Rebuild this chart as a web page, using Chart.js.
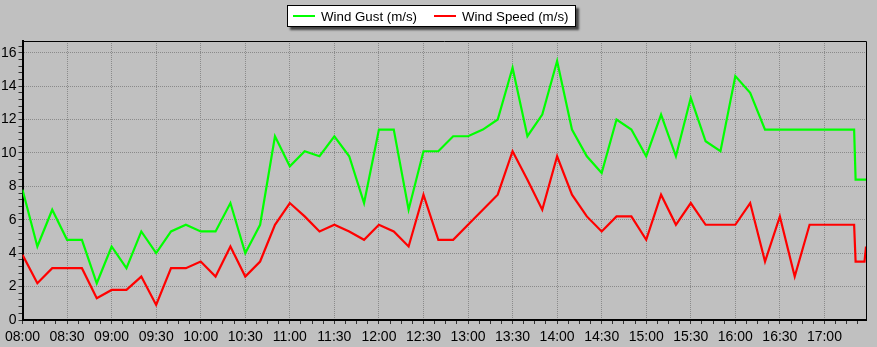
<!DOCTYPE html>
<html>
<head>
<meta charset="utf-8">
<script src="https://cdn.jsdelivr.net/npm/chart.js@4/dist/chart.umd.min.js"></script>
<style>
html,body{margin:0;padding:0;background:#c0c0c0;}
#wrap{position:relative;width:877px;height:347px;background:#c0c0c0;}
#chart{position:absolute;left:0;top:0;}
#legend{position:absolute;left:287px;top:5px;width:289px;height:22px;box-sizing:border-box;background:#fff;border:1px solid #000;box-shadow:3px 3px 2px rgba(0,0,0,0.65);display:flex;align-items:center;font:13.3px "Liberation Sans",Arial,sans-serif;color:#000;white-space:nowrap;}
#legend .item{display:flex;align-items:center;}
#legend .item + .item{margin-left:17px;}
#legend .item:first-child{margin-left:5px;}
#legend .sw{width:22px;height:2px;margin-right:6px;}
</style>
</head>
<body>
<div id="wrap">
  <canvas id="chart" width="877" height="347"></canvas>
  <div id="legend"></div>
</div>
<script>
// ---- data ----
const times = [
  '08:00','08:10','08:20','08:30','08:40','08:50',
  '09:00','09:10','09:20','09:30','09:40','09:50',
  '10:00','10:10','10:20','10:30','10:40','10:50',
  '11:00','11:10','11:20','11:30','11:40','11:50',
  '12:00','12:10','12:20','12:30','12:40','12:50',
  '13:00','13:10','13:20','13:30','13:40','13:50',
  '14:00','14:10','14:20','14:30','14:40','14:50',
  '15:00','15:10','15:20','15:30','15:40','15:50',
  '16:00','16:10','16:20','16:30','16:40','16:50',
  '17:00','17:10','17:20','17:21','17:27','17:28'
];
const windGust = [
  7.8, 4.4, 6.6, 4.8, 4.8, 2.2,
  4.4, 3.1, 5.3, 4.0, 5.3, 5.7,
  5.3, 5.3, 7.0, 4.0, 5.7, 11.0,
  9.2, 10.1, 9.8, 11.0, 9.8, 7.0,
  11.4, 11.4, 6.6, 10.1, 10.1, 11.0,
  11.0, 11.4, 12.0, 15.1, 11.0, 12.3,
  15.5, 11.4, 9.8, 8.8, 12.0, 11.4,
  9.8, 12.3, 9.8, 13.3, 10.7, 10.1,
  14.6, 13.6, 11.4, 11.4, 11.4, 11.4,
  11.4, 11.4, 11.4, 8.4, 8.4, 8.4
];
const windSpeed = [
  3.9, 2.2, 3.1, 3.1, 3.1, 1.3,
  1.8, 1.8, 2.6, 0.9, 3.1, 3.1,
  3.5, 2.6, 4.4, 2.6, 3.5, 5.7,
  7.0, 6.2, 5.3, 5.7, 5.3, 4.8,
  5.7, 5.3, 4.4, 7.5, 4.8, 4.8,
  5.7, 6.6, 7.5, 10.1, 8.4, 6.6,
  9.8, 7.5, 6.2, 5.3, 6.2, 6.2,
  4.8, 7.5, 5.7, 7.0, 5.7, 5.7,
  5.7, 7.0, 3.5, 6.2, 2.6, 5.7,
  5.7, 5.7, 5.7, 3.5, 3.5, 4.4
];
const seriesNames = ['Wind Gust (m/s)', 'Wind Speed (m/s)'];
const seriesColors = ['#00ff00', '#ff0000'];
const xTickLabels = ['08:00','08:30','09:00','09:30','10:00','10:30','11:00','11:30','12:00','12:30',
  '13:00','13:30','14:00','14:30','15:00','15:30','16:00','16:30','17:00'];
const yTickLabels = [0, 2, 4, 6, 8, 10, 12, 14, 16];
const xStart = '08:00', xEnd = '17:28';
const yMax = 16.7;
const xMinorStep = 7.5;   // minutes between minor ticks
const yMinorStep = 0.4;

// ---- helpers ----
const toMin = s => { const p = s.split(':').map(Number); return p[0] * 60 + p[1]; };
const fmt = v => { const h = Math.floor(v / 60), m = Math.round(v - h * 60); return String(h).padStart(2, '0') + ':' + String(m).padStart(2, '0'); };
const xMajor = new Set(xTickLabels.map(toMin));
const isYMajor = v => yTickLabels.some(t => Math.abs(t - v) < 1e-6);
const gridCol = '#8a8a8a';
const clear = 'rgba(0,0,0,0)';

// ---- legend (HTML) ----
const leg = document.getElementById('legend');
seriesNames.forEach((n, i) => {
  const it = document.createElement('div'); it.className = 'item';
  const sw = document.createElement('div'); sw.className = 'sw'; sw.style.background = seriesColors[i];
  const tx = document.createElement('span'); tx.textContent = n;
  it.appendChild(sw); it.appendChild(tx); leg.appendChild(it);
});

const frame = {
  id: 'frame',
  afterDraw(chart) {
    const {ctx, chartArea: a} = chart;
    ctx.save();
    ctx.strokeStyle = '#000'; ctx.lineWidth = 1;
    ctx.beginPath();
    ctx.moveTo(a.left, Math.floor(a.top) + 0.5);
    ctx.lineTo(Math.floor(a.right) + 0.5, Math.floor(a.top) + 0.5);
    ctx.lineTo(Math.floor(a.right) + 0.5, a.bottom);
    ctx.stroke();
    ctx.restore();
  }
};

Chart.defaults.font.family = "'Liberation Sans', Arial, sans-serif";
Chart.defaults.font.size = 14;
Chart.defaults.color = '#000';

new Chart(document.getElementById('chart'), {
  type: 'line',
  data: {
    datasets: [
      { label: seriesNames[0], data: times.map((t, i) => ({x: toMin(t), y: windGust[i]})),
        borderColor: seriesColors[0], backgroundColor: seriesColors[0], borderWidth: 2.2, pointRadius: 0, tension: 0, fill: false },
      { label: seriesNames[1], data: times.map((t, i) => ({x: toMin(t), y: windSpeed[i]})),
        borderColor: seriesColors[1], backgroundColor: seriesColors[1], borderWidth: 2.2, pointRadius: 0, tension: 0, fill: false }
    ]
  },
  options: {
    responsive: false,
    animation: false,
    devicePixelRatio: 1,
    layout: { padding: { top: 41, right: 11, left: 0, bottom: 0 } },
    plugins: { legend: { display: false }, tooltip: { enabled: false } },
    scales: {
      x: {
        type: 'linear',
        min: toMin(xStart), max: toMin(xEnd),
        afterBuildTicks: s => {
          const t = [];
          for (let v = toMin(xStart); v <= toMin(xEnd) + 1e-9; v += xMinorStep) t.push({value: v});
          s.ticks = t;
        },
        afterFit: s => { s.height = 27; },
        ticks: {
          autoSkip: false, maxRotation: 0, minRotation: 0, padding: 5,
          callback: v => xMajor.has(v) ? fmt(v) : ''
        },
        grid: {
          color: c => (c.tick && xMajor.has(c.tick.value)) ? gridCol : clear,
          tickColor: '#333', tickLength: 4, lineWidth: 1
        },
        border: { display: true, color: '#000', width: 2, dash: [1, 1] }
      },
      y: {
        type: 'linear',
        min: 0, max: yMax,
        afterBuildTicks: s => {
          const t = [];
          for (let k = 0; k * yMinorStep <= yMax + 1e-9; k++) t.push({value: Math.round(k * yMinorStep * 10) / 10});
          s.ticks = t;
        },
        afterFit: s => { s.width = 22; },
        ticks: {
          autoSkip: false, padding: 2,
          callback: v => isYMajor(v) ? String(Math.round(v)) : ''
        },
        grid: {
          color: c => (c.tick && isYMajor(c.tick.value) && c.tick.value > 0) ? gridCol : clear,
          tickColor: '#333', tickLength: 4, lineWidth: 1
        },
        border: { display: true, color: '#000', width: 2, dash: [1, 1] }
      }
    }
  },
  plugins: [frame]
});
</script>
</body>
</html>
